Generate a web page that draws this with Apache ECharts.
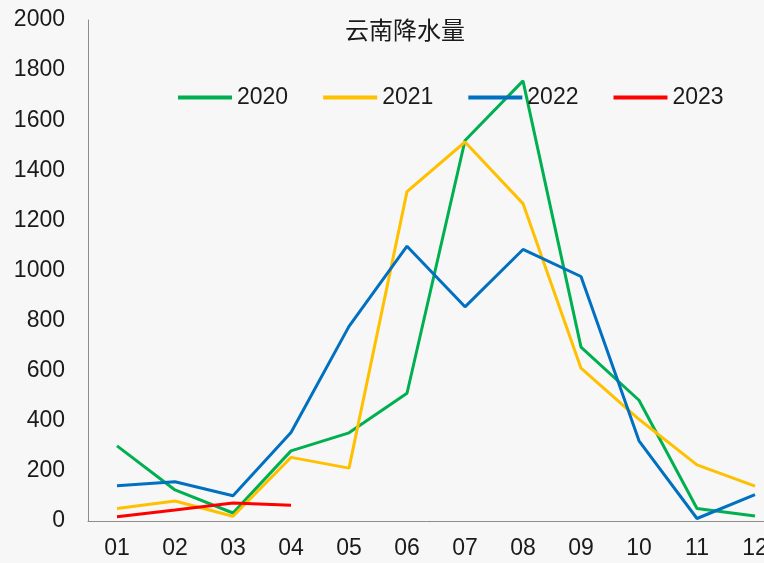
<!DOCTYPE html>
<html>
<head>
<meta charset="utf-8">
<script src="https://cdn.jsdelivr.net/npm/echarts@6/dist/echarts.min.js"></script>
<style>
  html, body { margin: 0; padding: 0; background: #f7f7f7; }
  #chart { width: 764px; height: 563px; }
</style>
</head>
<body>
<div id="chart"></div>
<script>
// 云南月度降水量
const months = ['01', '02', '03', '04', '05', '06', '07', '08', '09', '10', '11', '12'];
const rain2020 = [300, 124, 32, 280, 352, 510, 1519, 1757, 694, 482, 50, 20];
const rain2021 = [50, 80, 19, 254, 211, 1315, 1513, 1267, 610, 406, 224, 139];
const rain2022 = [141, 157, 101, 353, 777, 1097, 855, 1084, 976, 320, 10, 105];
const rain2023 = [17, 44, 72, 63];
const yTicks = { min: 0, max: 2000, interval: 200 };

const seriesDefs = [
  { name: '2020', data: rain2020, color: '#00B050' },
  { name: '2021', data: rain2021, color: '#FFC000' },
  { name: '2022', data: rain2022, color: '#0070C0' },
  { name: '2023', data: rain2023, color: '#FF0000' }
];

const textFont = 'Liberation Sans, Arial, sans-serif';
const chart = echarts.init(document.getElementById('chart'));
chart.setOption({
  backgroundColor: '#f7f7f7',
  animation: false,
  title: {
    text: '云南降水量',
    left: 340,
    top: 13,
    textStyle: {
      fontFamily: 'Noto Sans CJK SC',
      fontSize: 24,
      fontWeight: 'normal',
      color: '#1a1a1a'
    }
  },
  legend: {
    left: 173,
    top: 81,
    icon: 'rect',
    itemWidth: 54,
    itemHeight: 4,
    itemGap: 35,
    textStyle: { fontFamily: textFont, fontSize: 23, color: '#1a1a1a' },
    data: seriesDefs.map(s => s.name)
  },
  grid: {
    left: 88, width: 696, top: 20, bottom: 42,
    containLabel: false,
    outerBoundsMode: 'none'
  },
  xAxis: {
    type: 'category',
    data: months,
    boundaryGap: true,
    axisLine: { lineStyle: { color: '#8c8c8c', width: 1 } },
    axisTick: { show: false },
    axisLabel: { fontFamily: textFont, fontSize: 23, color: '#1a1a1a', margin: 16 }
  },
  yAxis: {
    type: 'value',
    min: yTicks.min,
    max: yTicks.max,
    interval: yTicks.interval,
    splitLine: { show: false },
    axisLine: { show: true, lineStyle: { color: '#8c8c8c', width: 1 } },
    axisTick: { show: false },
    axisLabel: {
      fontFamily: textFont, fontSize: 23, color: '#1a1a1a', margin: 23,
      formatter: v => String(v)
    }
  },
  series: seriesDefs.map(s => ({
    name: s.name,
    type: 'line',
    data: s.data,
    symbol: 'none',
    color: s.color,
    lineStyle: { width: 3, color: s.color }
  }))
});
</script>
</body>
</html>
